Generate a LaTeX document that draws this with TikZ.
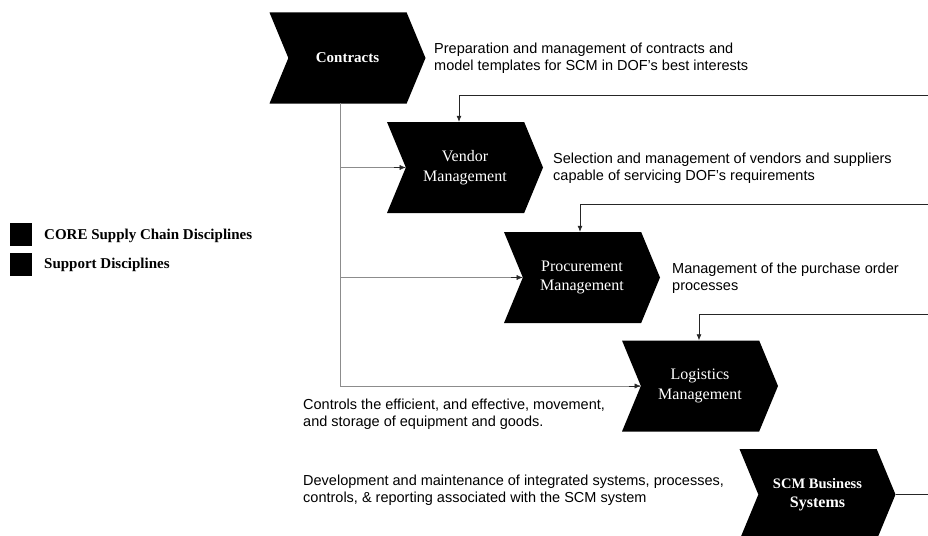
\documentclass[tikz,border=0pt]{standalone}
\usepackage{fontspec}
\setmainfont{Liberation Serif}
\setsansfont{Liberation Sans}
\usetikzlibrary{arrows.meta,positioning,calc,shapes.symbols}

\tikzset{
  chev/.style={signal, signal to=east, signal from=west, signal pointer angle=135,
    fill=black, text=white, minimum width=156pt, minimum height=91pt,
    inner sep=0pt, align=center, font=\fontsize{16}{19.5}\selectfont},
  desc/.style={anchor=west, align=left, inner sep=0pt,
    font=\sffamily\fontsize{14.5}{17}\selectfont},
  feedline/.style={draw=black!85, line width=0.7pt, -{Latex[length=6pt,width=5pt]}},
  branchline/.style={draw=black!45, line width=0.8pt},
  legsq/.style={fill=black, minimum width=22pt, minimum height=23pt, inner sep=0pt},
  legtxt/.style={anchor=west, inner sep=0pt, font=\bfseries\fontsize{15}{17}\selectfont},
}

\begin{document}
\begin{tikzpicture}[x=1pt,y=-1pt]
  \useasboundingbox (0,0) rectangle (928,535);

  % chevrons
  \node[chev] (contracts) at (347.5,58) {\fontsize{15}{19.5}\selectfont\textbf{Contracts}};
  \node[chev] (vendor) at (465,167.5) {Vendor\\Management};
  \node[chev] (procure) at (582,277.5) {Procurement\\Management};
  \node[chev] (logist) at (700,386) {Logistics\\Management};
  \node[chev] (scm) at (817.5,494.5) {\fontsize{14.5}{19.5}\selectfont\textbf{SCM Business}\\\textbf{Systems}};

  % descriptions
  \node[desc] (contractsd) at (434,58) {Preparation and management of contracts and\\model templates for SCM in DOF's best interests};
  \node[desc] (vendord) at (553,168) {Selection and management of vendors and suppliers\\capable of servicing DOF's requirements};
  \node[desc] (procured) at (672,278) {Management of the purchase order\\processes};
  \node[desc] (logistd) at (303,414) {Controls the efficient, and effective, movement,\\and storage of equipment and goods.};
  \node[desc] (scmd) at (303,490) {Development and maintenance of integrated systems, processes,\\controls, \& reporting associated with the SCM system};

  % legend
  \node[legsq] (coresq) at (21,234.5) {};
  \node[legsq] (suppsq) at (21,264) {};
  \node[legtxt] (coretxt) at (44,236) {CORE Supply Chain Disciplines};
  \node[legtxt] (supptxt) at (44,265) {Support Disciplines};

  % trunk from contracts
  \coordinate (trunk) at (340,103);
  \draw[branchline] (trunk) -- (trunk |- logist.west) -- (logist.west);
  \draw[branchline] (trunk |- vendor.west) -- (vendor.west);
  \draw[branchline] (trunk |- procure.west) -- (procure.west);
  \foreach \n in {vendor,procure,logist}
    \draw[-{Latex[length=6pt,width=5pt]}, draw=black!85] ($(\n.west)+(-12,0)$) -- (\n.west);

  % feedback lines from the right edge
  \coordinate (r1) at (928,95);
  \coordinate (r2) at (928,204);
  \coordinate (r3) at (928,314);
  \coordinate (r4) at (928,494.5);
  \draw[feedline] (r1) -| ($(vendor.north)+(-6,0)$);
  \draw[feedline] (r2) -| ($(procure.north)+(-2,0)$);
  \draw[feedline] (r3) -| ($(logist.north)+(-1,0)$);
  \draw[draw=black!85, line width=0.7pt] (scm.east) -- (r4);
\end{tikzpicture}
\end{document}
